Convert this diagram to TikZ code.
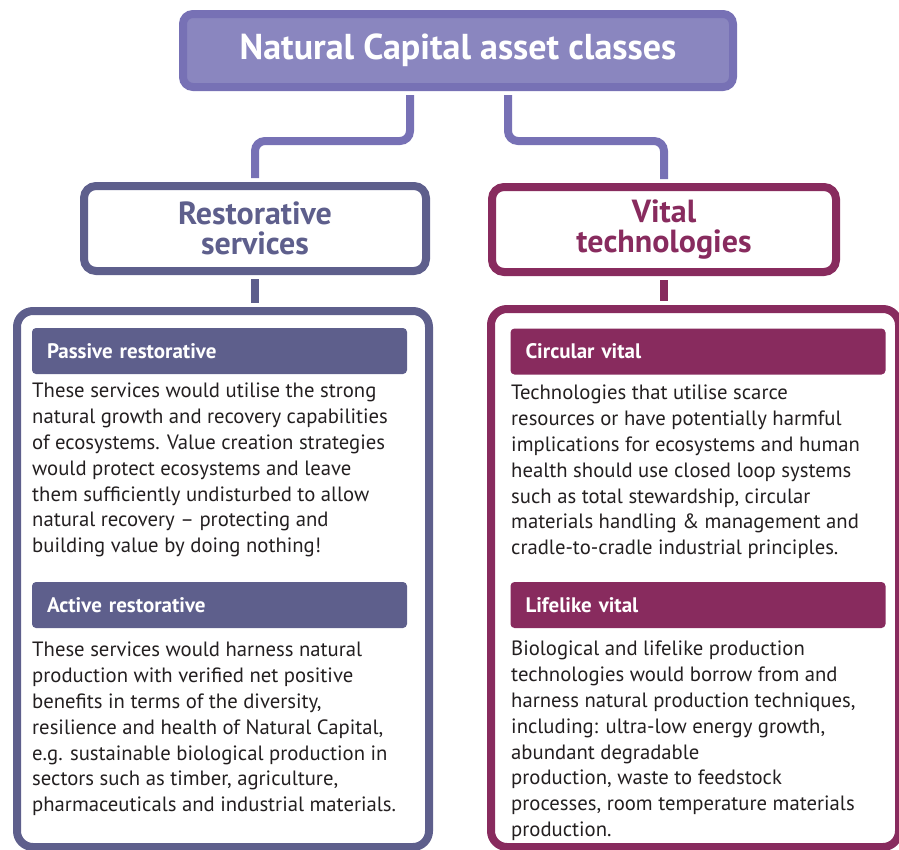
\documentclass[tikz,border=0pt]{standalone}
\usepackage{fontspec}
\setmainfont{PT Sans}
\usepackage{tikz}
\usetikzlibrary{positioning}

\definecolor{lavline}{HTML}{7771B5}
\definecolor{lavfill}{HTML}{8A86BF}
\definecolor{slate}{HTML}{5E5F8C}
\definecolor{maroon}{HTML}{882B5E}
\definecolor{bodyink}{HTML}{231F20}

\tikzset{
  classbox/.style={draw, line width=8pt, fill=white, rounded corners=12pt,
    align=center, font=\bfseries\fontsize{32}{30}\selectfont},
  groupbox/.style={draw, line width=8pt, rounded corners=16pt},
  headbar/.style={rounded corners=4pt, text=white, inner xsep=15pt,
    text width=345pt, align=left, minimum height=46pt,
    font=\bfseries\fontsize{21}{24}\selectfont},
  bodytext/.style={anchor=north west, inner sep=0pt, align=left, text=bodyink,
    font=\fontsize{20.7}{25.8}\selectfont},
  link/.style={line width=8pt, rounded corners=10pt, shorten <=4pt, shorten >=4pt}
}

\begin{document}
\begin{tikzpicture}[x=1pt, y=-1pt]
\clip (0,0) rectangle (899,849);

% top node
\node[draw=lavline, fill=lavfill, line width=8pt, rounded corners=10pt,
  minimum width=550pt, minimum height=73pt, text=white,
  font=\bfseries\fontsize{36}{40}\selectfont] (title) at (458,50.5)
  {Natural Capital asset classes};

% the two classes
\node[classbox, draw=slate, text=slate, minimum width=342pt, minimum height=85pt]
  (rest) at (255,228.5) {Restorative\\services};
\node[classbox, draw=maroon, text=maroon, minimum width=344pt, minimum height=85pt]
  (vital) at (664,229.5) {Vital\\technologies};

% outer frames
\node[groupbox, draw=slate, minimum width=412pt, minimum height=536pt] (restgroup) at (223,579) {};
\node[groupbox, draw=maroon, minimum width=408pt, minimum height=538pt] (vitalgroup) at (695,578) {};

% connectors
\draw[link, lavline] ([xshift=-48pt]title.south) -- ++(0,50) -| (rest.north);
\draw[link, lavline] ([xshift=50pt]title.south) -- ++(0,50) -| (vital.north);
\draw[link, slate] (rest.south) -- (rest.south |- restgroup.north);
\draw[link, maroon] (vital.south) -- (vital.south |- vitalgroup.north);

% restorative services
\node[headbar, fill=slate] (passive) at (219.5,351) {Passive restorative};
\node[bodytext] (passivetxt) at (32,383) {These services would utilise the strong\\
natural growth and recovery capabilities\\
of ecosystems. Value creation strategies\\
would protect ecosystems and leave\\
them sufficiently undisturbed to allow\\
natural recovery -- protecting and\\
building value by doing nothing!};

\node[headbar, fill=slate] (active) at (219.5,605) {Active restorative};
\node[bodytext] (activetxt) at (32,642) {These services would harness natural\\
production with verified net positive\\
benefits in terms of the diversity,\\
resilience and health of Natural Capital,\\
e.g. sustainable biological production in\\
sectors such as timber, agriculture,\\
pharmaceuticals and industrial materials.};

% vital technologies
\node[headbar, fill=maroon] (circular) at (698,351.5) {Circular vital};
\node[bodytext] (circulartxt) at (511,385) {Technologies that utilise scarce\\
resources or have potentially harmful\\
implications for ecosystems and human\\
health should use closed loop systems\\
such as total stewardship, circular\\
materials handling \& management and\\
cradle-to-cradle industrial principles.};

\node[headbar, fill=maroon] (lifelike) at (698,605) {Lifelike vital};
\node[bodytext] (lifeliketxt) at (511,641) {Biological and lifelike production\\
technologies would borrow from and\\
harness natural production techniques,\\
including: ultra-low energy growth,\\
abundant degradable\\
production, waste to feedstock\\
processes, room temperature materials\\
production.};
\end{tikzpicture}
\end{document}
